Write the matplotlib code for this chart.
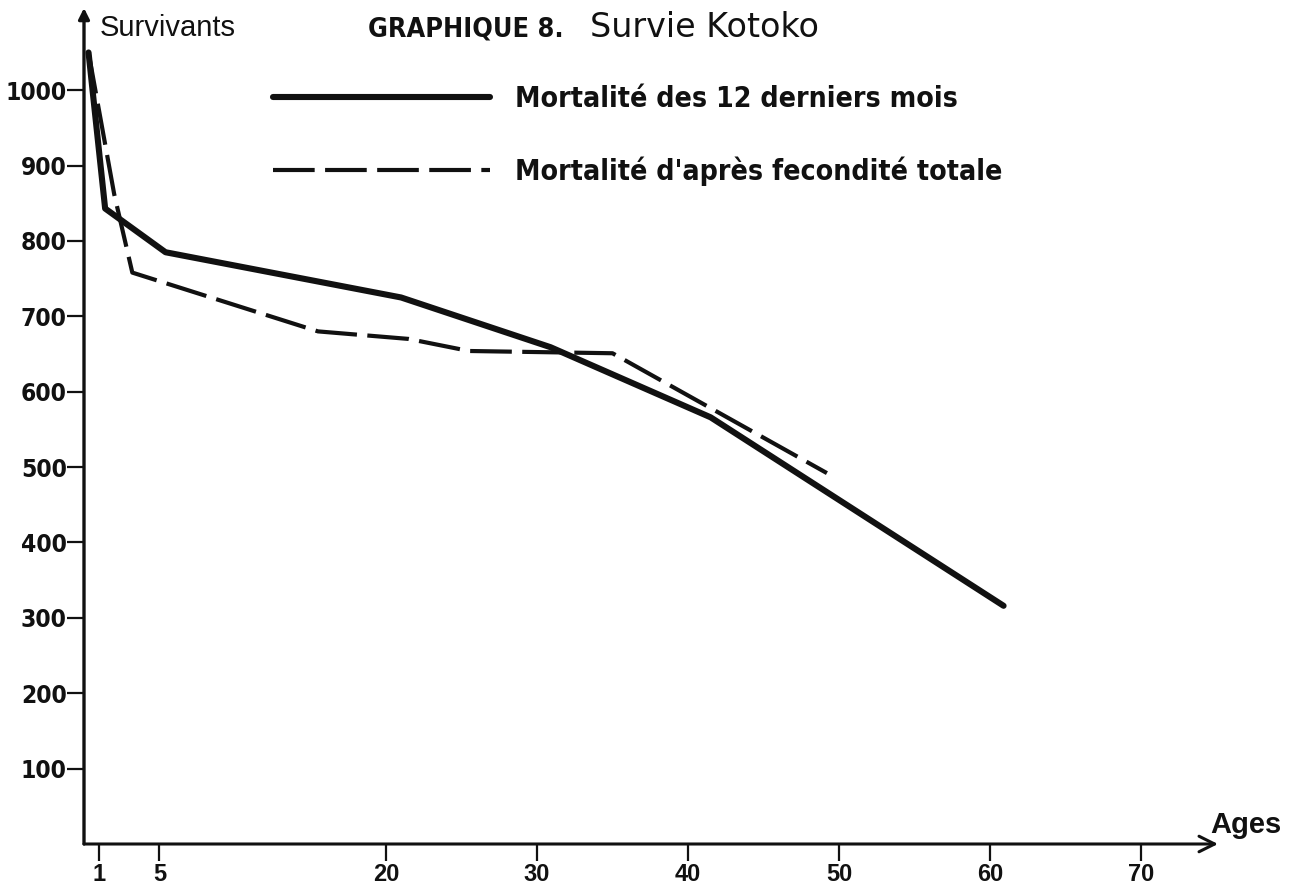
import os
import matplotlib
matplotlib.use('Agg')
import matplotlib.pyplot as plt
from matplotlib import font_manager as fm

# courbes de survie (ages en annees, survivants sur 1000)
ages_12mois = [0.3, 1.4, 5.4, 21, 30.9, 41.5, 60.9]
surv_12mois = [1050, 843, 785, 725, 659, 566, 316]

ages_fecond = [0.3, 2.0, 3.2, 15.5, 21.5, 25.5, 35, 49.2]
surv_fecond = [1050, 862, 758, 680, 670, 654, 651, 492]

x_ticks = [1, 5, 20, 30, 40, 50, 60, 70]
y_ticks = [100, 200, 300, 400, 500, 600, 700, 800, 900, 1000]
labels = ["Mortalité des 12 derniers mois", "Mortalité d'après fecondité totale"]

W, H = 1291, 890
ink = '#111111'


def find_font(keys):
    for key in keys:
        for f in fm.fontManager.ttflist:
            if os.path.basename(f.fname).startswith(key):
                return f.fname
    return None


# a narrow bold face if there is one, else plain bold
narrow_path = find_font(['LiberationSansNarrow-Bold.', 'DejaVuSansCondensed-Bold.',
                         'NotoSans-CondensedBold', 'RobotoCondensed-Bold',
                         'OpenSans_Condensed-Bold', 'LiberationSans-Bold.'])


def narrow(size):
    if narrow_path:
        return fm.FontProperties(fname=narrow_path, size=size)
    return fm.FontProperties(family='DejaVu Sans', weight='bold', size=size)


fig = plt.figure(figsize=(W / 100, H / 100), dpi=100)
renderer = fig.canvas.get_renderer()


def fitted(s, fp, width_px):
    # scale font so that the string spans width_px pixels
    t = fig.text(0, 0, s, fontproperties=fp)
    w = t.get_window_extent(renderer).width
    t.remove()
    fp = fp.copy()
    fp.set_size(fp.get_size() * width_px / w)
    return fp


ax = fig.add_axes([84 / W, 46 / H, 1134 / W, 836 / H])

ax.plot(ages_12mois, surv_12mois, color=ink, lw=4.4, solid_joinstyle='round',
        solid_capstyle='round', label=labels[0])
ax.plot(ages_fecond, surv_fecond, color=ink, lw=3, dashes=(10, 2.5), label=labels[1])

ax.set_xlim(0, 75.1)
ax.set_ylim(0, 1109)

for s in ax.spines.values():
    s.set_visible(False)

# axes with arrows
ax.annotate('', xy=(1, 0), xytext=(0, 0), xycoords='axes fraction',
            arrowprops=dict(arrowstyle='->', lw=2.2, color=ink, mutation_scale=28,
                            shrinkA=0, shrinkB=0))
ax.annotate('', xy=(0, 1), xytext=(0, 0), xycoords='axes fraction',
            arrowprops=dict(arrowstyle='-|>', lw=2.4, color=ink, mutation_scale=16,
                            shrinkA=0, shrinkB=0))

ytick_fp = fitted('1000', narrow(22), 61)
ax.set_xticks(x_ticks)
ax.set_xticklabels([str(v) for v in x_ticks], family=['Liberation Sans', 'DejaVu Sans'],
                   weight='bold', fontsize=17)
ax.set_yticks(y_ticks)
ax.set_yticklabels([str(v) for v in y_ticks], fontproperties=ytick_fp)
ax.tick_params(axis='both', direction='out', length=12, width=1.6, color=ink, labelcolor=ink)
ax.tick_params(axis='x', pad=2)
ax.tick_params(axis='y', pad=0.5)

fig.text(100 / W, 1 - 36 / H, 'Survivants', family=['Liberation Sans', 'DejaVu Sans'],
         fontsize=21, color=ink, va='baseline')
fig.text(368 / W, 1 - 37 / H, 'GRAPHIQUE 8.', fontproperties=fitted('GRAPHIQUE 8.', narrow(22), 195),
         color=ink, va='baseline')
fig.text(590 / W, 1 - 37 / H, 'Survie Kotoko', family='DejaVu Sans', fontsize=24, color=ink,
         va='baseline')
fig.text(1210 / W, 1 - 833 / H, 'Ages', family=['Liberation Sans', 'DejaVu Sans'],
         weight='bold', fontsize=21, color=ink, va='baseline')

leg_fp = fitted(labels[0], narrow(23), 442)
fs = leg_fp.get_size() * 100 / 72
row_y = [97, 170]  # legend lines, pixels from top


def make_legend(top, spacing):
    lg = ax.legend(loc='upper left', bbox_to_anchor=(273 / W, 1 - top / H),
                   bbox_transform=fig.transFigure, frameon=False, borderpad=0,
                   borderaxespad=0, handlelength=217 / fs, handletextpad=25 / fs,
                   labelspacing=spacing, prop=leg_fp)
    for t in lg.get_texts():
        t.set_color(ink)
    return lg


def handle_rows(lg):
    fig.canvas.draw()
    ys = []
    for h in lg.legend_handles:
        ys.append(H - h.get_transform().transform(h.get_xydata())[0][1])
    return ys


top, spacing = 97 - 0.6 * fs, (73 - 1.17 * fs) / fs
leg = make_legend(top, spacing)
ys = handle_rows(leg)
spacing += ((row_y[1] - row_y[0]) - (ys[1] - ys[0])) / fs
leg.remove()
leg = make_legend(top, spacing)
ys = handle_rows(leg)
top += row_y[0] - ys[0]
leg.remove()
leg = make_legend(top, spacing)

fig.savefig('out.png', dpi=100, facecolor='white')
